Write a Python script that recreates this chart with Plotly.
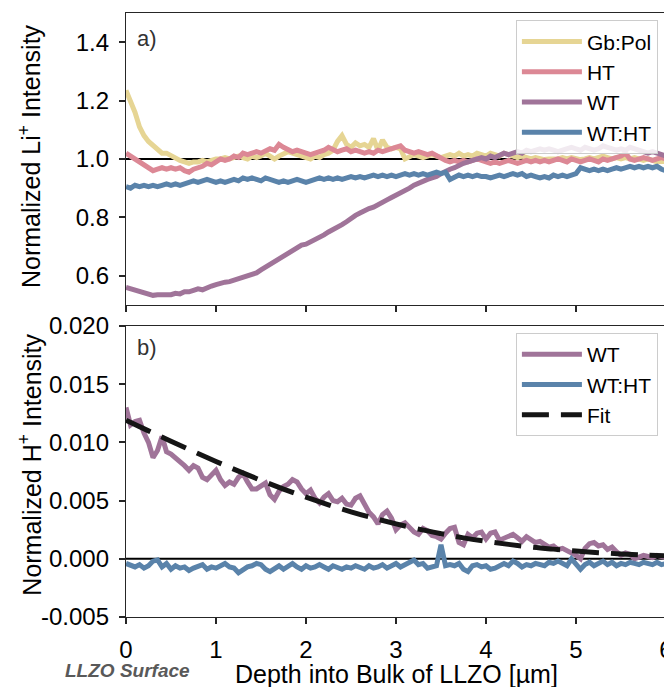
import plotly.graph_objects as go

# ---------------- data ----------------
depth = [round(i * 0.05, 2) for i in range(121)]  # µm, sampling grid 0..6

li_gbpol = [1.235, 1.20, 1.16, 1.11, 1.08, 1.06, 1.045, 1.03, 1.02, 1.02,
            1.01, 1.005, 0.995, 0.99, 0.985, 0.99, 0.99, 0.995, 0.99, 0.995,
            1.0, 1.0, 1.005, 1.0, 1.005, 1.01, 1.005, 1.0, 1.01, 1.005,
            1.01, 1.02, 1.01, 1.0, 1.01, 1.02, 1.025, 1.02, 1.015, 1.01,
            1.005, 1.0, 1.01, 1.005, 1.015, 1.02, 1.03, 1.06, 1.08, 1.05,
            1.04, 1.055, 1.045, 1.05, 1.04, 1.07, 1.03, 1.065, 1.04, 1.035,
            1.04, 1.035, 1.0, 1.01, 1.015, 1.01, 1.005, 1.01, 1.015, 1.01,
            1.005, 1.01, 1.015, 1.01, 1.02, 1.01, 1.015, 1.01, 1.02, 1.015,
            1.01, 1.02, 1.015, 1.01, 1.02, 1.015, 1.01, 1.005, 1.01, 1.005,
            1.0, 1.005, 1.0, 0.998, 1.0, 0.998, 1.0, 1.005, 1.0, 1.005,
            1.0, 0.998, 1.0, 1.005, 1.0, 1.005, 1.01, 1.005, 1.0, 1.005,
            1.0, 1.005, 1.0, 1.005, 1.0, 0.995, 1.0, 0.995, 0.99, 0.995,
            0.99]

li_ht = [1.02, 1.01, 1.0, 0.99, 0.975, 0.965, 0.96, 0.965, 0.97, 0.965,
         0.97, 0.965, 0.97, 0.96, 0.955, 0.965, 0.97, 0.975, 0.985, 0.98,
         0.99, 1.0, 0.995, 1.0, 1.01, 1.005, 1.02, 1.015, 1.02, 1.025,
         1.02, 1.03, 1.035, 1.03, 1.05, 1.04, 1.03, 1.025, 1.03, 1.025,
         1.02, 1.015, 1.02, 1.025, 1.03, 1.04, 1.03, 1.025, 1.03, 1.035,
         1.025, 1.03, 1.025, 1.02, 1.025, 1.02, 1.03, 1.025, 1.03, 1.035,
         1.04, 1.045, 1.03, 1.025, 1.02, 1.025, 1.02, 1.015, 1.02, 1.01,
         1.005, 0.995, 0.99, 0.995, 0.99, 0.995, 0.99, 0.995, 1.0, 0.995,
         0.99, 0.985, 0.99, 0.985, 0.99, 0.995, 0.99, 0.985, 0.99, 0.995,
         0.99, 0.995, 0.99, 0.995, 0.99, 0.995, 1.0, 0.995, 0.99, 1.0,
         0.995, 0.99, 0.995, 1.0, 0.995, 0.99, 1.0, 0.995, 1.0, 1.005,
         1.01, 1.02, 1.0, 0.995, 1.0, 1.005, 1.0, 0.995, 1.0, 1.005,
         1.0]

li_wt = [0.56, 0.555, 0.55, 0.545, 0.54, 0.535, 0.533, 0.535, 0.535, 0.537,
         0.535, 0.54, 0.538, 0.545, 0.545, 0.55, 0.555, 0.552, 0.56, 0.565,
         0.57, 0.575, 0.578, 0.58, 0.585, 0.59, 0.595, 0.6, 0.605, 0.61,
         0.62, 0.63, 0.64, 0.648, 0.655, 0.668, 0.68, 0.688, 0.7, 0.705,
         0.708, 0.715, 0.722, 0.73, 0.74, 0.75, 0.757, 0.765, 0.775, 0.785,
         0.797, 0.807, 0.815, 0.825, 0.83, 0.835, 0.845, 0.855, 0.86, 0.868,
         0.875, 0.882, 0.89, 0.9, 0.91, 0.918, 0.925, 0.93, 0.935, 0.94,
         0.95, 0.96, 0.965, 0.97, 0.98, 0.985, 0.99, 0.995, 1.0, 1.005,
         1.0, 1.01, 1.005, 1.015, 1.02, 1.015, 1.02, 1.025, 1.02, 1.03,
         1.025, 1.03, 1.035, 1.03, 1.035, 1.03, 1.025, 1.03, 1.035, 1.04,
         1.035, 1.03, 1.04, 1.035, 1.03, 1.035, 1.045, 1.04, 1.035, 1.03,
         1.035, 1.03, 1.04, 1.035, 1.03, 1.025, 1.02, 1.025, 1.02, 1.015,
         1.01]

li_wtht = [0.905, 0.9, 0.91, 0.905, 0.91, 0.905, 0.91, 0.905, 0.91, 0.915,
           0.91, 0.915, 0.91, 0.915, 0.92, 0.925, 0.92, 0.925, 0.93, 0.925,
           0.92, 0.925, 0.92, 0.925, 0.93, 0.925, 0.935, 0.93, 0.935, 0.93,
           0.925, 0.935, 0.93, 0.925, 0.92, 0.925, 0.92, 0.925, 0.93, 0.925,
           0.92, 0.925, 0.93, 0.935, 0.93, 0.935, 0.93, 0.935, 0.93, 0.935,
           0.94, 0.935, 0.94, 0.935, 0.94, 0.945, 0.94, 0.945, 0.94, 0.945,
           0.94, 0.945, 0.95, 0.945, 0.95, 0.945, 0.95, 0.945, 0.95, 0.955,
           0.95, 0.955, 0.93, 0.94, 0.945, 0.94, 0.945, 0.94, 0.945, 0.94,
           0.94, 0.935, 0.94, 0.945, 0.94, 0.945, 0.95, 0.945, 0.95, 0.94,
           0.945, 0.94, 0.935, 0.94, 0.935, 0.945, 0.94, 0.945, 0.94, 0.945,
           0.95, 0.97, 0.965, 0.96, 0.965, 0.96, 0.965, 0.96, 0.965, 0.97,
           0.965, 0.97, 0.975, 0.97, 0.975, 0.97, 0.975, 0.97, 0.975, 0.965,
           0.96]

h_wt = [0.0130, 0.0115, 0.0118, 0.0119, 0.0108, 0.0100, 0.0087, 0.0093, 0.0105, 0.0092,
        0.0090, 0.0087, 0.0084, 0.0080, 0.0076, 0.0080, 0.0078, 0.0070, 0.0068, 0.0072,
        0.0076, 0.0068, 0.0063, 0.0066, 0.0064, 0.0070, 0.0073, 0.0066, 0.0060, 0.0060,
        0.0062, 0.0065, 0.0055, 0.0051, 0.0058, 0.0062, 0.0064, 0.0068, 0.0066, 0.0060,
        0.0056, 0.0059, 0.0052, 0.0048, 0.0053, 0.0056, 0.0050, 0.0049, 0.0052, 0.0047,
        0.0046, 0.0052, 0.0054, 0.0047, 0.0040, 0.0036, 0.0030, 0.0038, 0.0041, 0.0035,
        0.0025, 0.0029, 0.0031, 0.0027, 0.0023, 0.0021, 0.0026, 0.0024, 0.0020, 0.0019,
        0.0017, 0.0022, 0.0026, 0.0027, 0.0014, 0.0012, 0.0021, 0.0018, 0.0022, 0.0023,
        0.0017, 0.0022, 0.0023, 0.0016, 0.0018, 0.0019, 0.0021, 0.0018, 0.0015, 0.0019,
        0.0017, 0.0014, 0.0015, 0.0013, 0.0010, 0.0011, 0.0008, 0.0009, 0.0007, 0.0006,
        0.0003, 0.0000, 0.0009, 0.0013, 0.0014, 0.0011, 0.0012, 0.0008, 0.0010, 0.0006,
        0.0003, 0.0005, 0.0004, 0.0000, 0.0001, 0.0003, 0.0002, 0.0001, 0.0003, 0.0002,
        0.0001]

h_wtht = [-0.0004, -0.0006, -0.0007, -0.0005, -0.0008, -0.0006, -0.0002, -0.0001, -0.0007, -0.0004,
          -0.0009, -0.0006, -0.0008, -0.0007, -0.0010, -0.0008, -0.0006, -0.0005, -0.0009, -0.0007,
          -0.0008, -0.0006, -0.0004, -0.0007, -0.0008, -0.0012, -0.0009, -0.0007, -0.0006, -0.0004,
          -0.0005, -0.0009, -0.0011, -0.0008, -0.0006, -0.0009, -0.0006, -0.0004, -0.0007, -0.0009,
          -0.0006, -0.0008, -0.0007, -0.0005, -0.0007, -0.0009, -0.0006, -0.0008, -0.0009, -0.0007,
          -0.0008, -0.0006, -0.0007, -0.0009, -0.0006, -0.0008, -0.0007, -0.0005, -0.0008, -0.0006,
          -0.0004, -0.0007, -0.0005, -0.0003, -0.0001, -0.0005, -0.0004, -0.0008, -0.0007, -0.0006,
          0.0012, -0.0006, -0.0005, -0.0006, -0.0004, -0.0009, -0.0011, -0.0006, -0.0005, -0.0007,
          -0.0006, -0.0009, -0.0008, -0.0006, -0.0004, -0.0006, -0.0002, -0.0004, -0.0007, -0.0005,
          -0.0006, -0.0004, -0.0005, -0.0006, -0.0003, -0.0004, -0.0002, -0.0004, -0.0006, 0.0000,
          -0.0004, -0.0009, -0.0005, -0.0003, -0.0006, -0.0004, -0.0002, -0.0005, -0.0003, -0.0006,
          -0.0004, -0.0005, -0.0003, -0.0004, -0.0005, -0.0003, -0.0004, -0.0005, -0.0003, -0.0005,
          -0.0004]

fit_depth = [0.0, 0.25, 0.5, 0.75, 1.0, 1.25, 1.5, 1.75, 2.0, 2.25, 2.5, 2.75, 3.0,
             3.25, 3.5, 3.75, 4.0, 4.25, 4.5, 4.75, 5.0, 5.25, 5.5, 5.75, 6.0]
fit_vals = [0.01190, 0.01099, 0.01010, 0.00922, 0.00836, 0.00753, 0.00674, 0.00599,
            0.00529, 0.00464, 0.00404, 0.00350, 0.00300, 0.00255, 0.00216, 0.00180,
            0.00150, 0.00124, 0.00101, 0.00083, 0.00067, 0.00053, 0.00042, 0.00033,
            0.00026]

top_ticks = [0.6, 0.8, 1.0, 1.2, 1.4]
top_ticktext = ["0.6", "0.8", "1.0", "1.2", "1.4"]
bot_ticks = [-0.005, 0.0, 0.005, 0.010, 0.015, 0.020]
bot_ticktext = ["-0.005", "0.000", "0.005", "0.010", "0.015", "0.020"]
x_ticks = [0, 1, 2, 3, 4, 5, 6]

C_GB = "#E6D594"
C_HT = "#DC8895"
C_WT = "#A07499"
C_WTHT = "#5A83AA"

FONT = "Liberation Sans, Arial, Helvetica, sans-serif"
LW = 5

fig = go.Figure()

# reference lines
fig.add_shape(type="line", xref="x domain", yref="y", x0=0, x1=1, y0=1.0, y1=1.0,
              line=dict(color="black", width=2), layer="below")
fig.add_shape(type="line", xref="x2 domain", yref="y2", x0=0, x1=1, y0=0.0, y1=0.0,
              line=dict(color="black", width=2), layer="below")

# top panel
for name, ys, col in [("Gb:Pol", li_gbpol, C_GB), ("HT", li_ht, C_HT),
                      ("WT", li_wt, C_WT), ("WT:HT", li_wtht, C_WTHT)]:
    fig.add_trace(go.Scatter(x=depth, y=ys, name=name, mode="lines",
                             line=dict(color=col, width=LW),
                             xaxis="x", yaxis="y", legend="legend"))

# bottom panel
fig.add_trace(go.Scatter(x=depth, y=h_wt, name="WT", mode="lines",
                         line=dict(color=C_WT, width=LW),
                         xaxis="x2", yaxis="y2", legend="legend2"))
fig.add_trace(go.Scatter(x=depth, y=h_wtht, name="WT:HT", mode="lines",
                         line=dict(color=C_WTHT, width=LW),
                         xaxis="x2", yaxis="y2", legend="legend2"))
fig.add_trace(go.Scatter(x=fit_depth, y=fit_vals, name="Fit", mode="lines",
                         line=dict(color="#151515", width=5, dash="27px,12px", shape="spline"),
                         xaxis="x2", yaxis="y2", legend="legend2"))

axis_common = dict(showline=True, linecolor="#262626", linewidth=1.3, mirror=True,
                   ticks="outside", ticklen=6, tickwidth=1.5, tickcolor="#262626",
                   showgrid=False, zeroline=False, automargin=False,
                   ticklabeloverflow="allow", ticklabelstandoff=5,
                   tickfont=dict(family=FONT, size=24, color="black"))

H_TOP = 0.5166
H_BOT = 0.4818

LEG_FONT = dict(family=FONT, size=21, color="black")

# The page body has an 8px margin; the figure is sized to fill the rest of the window.
fig.update_layout(
    width=664, height=679,
    margin=dict(l=118, r=6, t=5, b=70),
    paper_bgcolor="white", plot_bgcolor="white",
    font=dict(family=FONT, color="black"),
    xaxis=dict(domain=[0, 1], anchor="y", range=[0, 6], tickvals=x_ticks,
               showticklabels=False, matches="x2", **axis_common),
    yaxis=dict(domain=[H_TOP, 1], anchor="x", range=[0.5, 1.5], tickvals=top_ticks,
               ticktext=top_ticktext, **axis_common),
    xaxis2=dict(domain=[0, 1], anchor="y2", range=[0, 6], tickvals=x_ticks, **axis_common),
    yaxis2=dict(domain=[0, H_BOT], anchor="x2", range=[-0.005, 0.02], tickvals=bot_ticks,
                ticktext=bot_ticktext, **axis_common),
    legend=dict(x=0.985, y=0.988, xanchor="right", yanchor="top",
                bgcolor="rgba(255,255,255,0.85)", bordercolor="#cccccc", borderwidth=1,
                font=LEG_FONT, tracegroupgap=0, itemwidth=60),
    legend2=dict(x=0.985, y=0.470, xanchor="right", yanchor="top",
                 bgcolor="rgba(255,255,255,0.85)", bordercolor="#cccccc", borderwidth=1,
                 font=LEG_FONT, tracegroupgap=0, itemwidth=60),
    showlegend=True,
)

# axis titles as annotations (fixed positions)
fig.add_annotation(text="Normalized Li<sup>+</sup> Intensity", xref="paper", yref="paper",
                   x=-0.178, y=0.763, xanchor="center", yanchor="middle", textangle=-90,
                   showarrow=False, font=dict(family=FONT, size=25, color="black"))
fig.add_annotation(text="Normalized H<sup>+</sup> Intensity", xref="paper", yref="paper",
                   x=-0.178, y=0.252, xanchor="center", yanchor="middle", textangle=-90,
                   showarrow=False, font=dict(family=FONT, size=25, color="black"))
fig.add_annotation(text="Depth into Bulk of LLZO [µm]", xref="paper", yref="paper",
                   x=0.5, y=-0.095, xanchor="center", yanchor="middle",
                   showarrow=False, font=dict(family=FONT, size=25, color="black"))

fig.add_annotation(text="a)", xref="paper", yref="paper", x=0.016, y=0.958,
                   xanchor="left", yanchor="middle", showarrow=False,
                   font=dict(family=FONT, size=22, color="#333333"))
fig.add_annotation(text="b)", xref="paper", yref="paper", x=0.016, y=0.447,
                   xanchor="left", yanchor="middle", showarrow=False,
                   font=dict(family=FONT, size=22, color="#333333"))
fig.add_annotation(text="<b><i>LLZO Surface</i></b>", xref="paper", yref="paper",
                   x=0.003, y=-0.089, xanchor="center", yanchor="middle", showarrow=False,
                   font=dict(family=FONT, size=19, color="#595959"))

fig.write_html("out.html")
